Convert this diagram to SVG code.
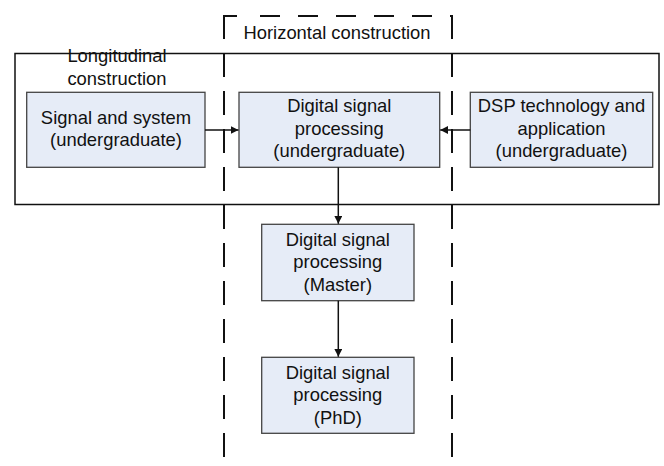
<svg xmlns="http://www.w3.org/2000/svg" width="664" height="466" viewBox="0 0 664 466">
<style>
.node rect{fill:#E6ECF7;stroke:#444;stroke-width:1.3}
text{font-family:"Liberation Sans",Arial,sans-serif;font-size:18.4px;fill:#111;text-anchor:middle}
.dash{fill:none;stroke:#111;stroke-width:2}
.conn{fill:none;stroke:#111;stroke-width:1.5}
</style>
<defs>
<marker id="ah" viewBox="0 0 10 10" refX="10" refY="5" markerWidth="8" markerHeight="8" markerUnits="userSpaceOnUse" orient="auto">
<path d="M0,0 L10,5 L0,10 Z" fill="#111"/>
</marker>
</defs>
<g id="horizontal-construction">
<path class="dash" d="M224,16 H452" stroke-dasharray="13 23 20 18 20 18 20 18 20 18 20 18"/>
<path class="dash" d="M224,15 V466" stroke-dasharray="24 14"/>
<path class="dash" d="M452,15 V466" stroke-dasharray="24 14"/>
<text x="337" y="38.5">Horizontal construction</text>
</g>
<g id="longitudinal-construction">
<rect x="15" y="53.5" width="644" height="151" fill="none" stroke="#111" stroke-width="1.5"/>
<text x="117" y="62">Longitudinal</text>
<text x="117" y="85">construction</text>
</g>
<g id="signal-system" class="node">
<rect x="26.7" y="92.3" width="178.3" height="75"/>
<text x="116" y="123.8">Signal and system</text>
<text x="116" y="146.3">(undergraduate)</text>
</g>
<g id="dsp-undergrad" class="node">
<rect x="239" y="92.3" width="200.7" height="75"/>
<text x="339.3" y="112.3">Digital signal</text>
<text x="339.3" y="134.8">processing</text>
<text x="339.3" y="157.3">(undergraduate)</text>
</g>
<g id="dsp-tech" class="node">
<rect x="470.3" y="92.3" width="182.4" height="75"/>
<text x="561.5" y="112.3">DSP technology and</text>
<text x="561.5" y="134.8">application</text>
<text x="561.5" y="157.3">(undergraduate)</text>
</g>
<g id="dsp-master" class="node">
<rect x="261.7" y="224.3" width="152.3" height="76.4"/>
<text x="337.8" y="245.7">Digital signal</text>
<text x="337.8" y="268.2">processing</text>
<text x="337.8" y="290.7">(Master)</text>
</g>
<g id="dsp-phd" class="node">
<rect x="261.7" y="357.3" width="152.3" height="76"/>
<text x="337.8" y="378.5">Digital signal</text>
<text x="337.8" y="401">processing</text>
<text x="337.8" y="423.5">(PhD)</text>
</g>
<g id="connectors">
<path class="conn" d="M205,130 H238.5" marker-end="url(#ah)"/>
<path class="conn" d="M470.3,130 H440.2" marker-end="url(#ah)"/>
<path class="conn" d="M338.3,167.3 V223.8" marker-end="url(#ah)"/>
<path class="conn" d="M338.3,300.7 V356.8" marker-end="url(#ah)"/>
</g>
</svg>
